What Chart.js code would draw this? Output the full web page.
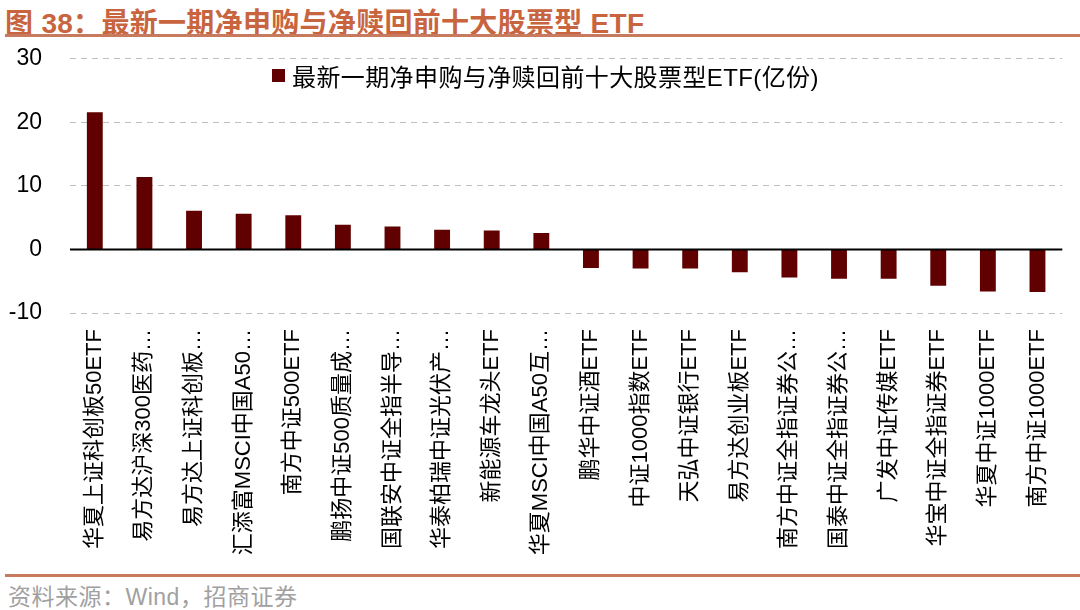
<!DOCTYPE html>
<html>
<head>
<meta charset="utf-8">
<script src="https://cdn.jsdelivr.net/npm/chart.js@4.4.1/dist/chart.umd.min.js"></script>
<style>
  html, body { margin:0; padding:0; background:#fff; }
  body { width:1080px; height:610px; position:relative; overflow:hidden;
         font-family:"Liberation Sans","Noto Sans CJK SC",sans-serif; }
  #title { position:absolute; left:5px; top:1px; font-size:28px; font-weight:bold; color:#C8653F; white-space:nowrap; letter-spacing:0.3px; }
  #tline { position:absolute; left:5px; right:0; top:34px; height:3px; background:#C87A5E; }
  #fline { position:absolute; left:5px; right:0; top:574px; height:3px; background:#C87A5E; }
  #foot { position:absolute; left:8px; top:578px; font-size:23px; color:#A0A0A0; white-space:nowrap; letter-spacing:0.5px; }
  #wrap { position:absolute; left:0; top:17px; width:1080px; height:553px; }
  #legend { position:absolute; left:272px; top:58px; font-size:24px; color:#000; white-space:nowrap; display:flex; align-items:center; letter-spacing:0.4px; }
  #legend .sw { width:13px; height:13px; background:#600000; margin-right:7px; }
</style>
</head>
<body>
<div id="title">图 38：最新一期净申购与净赎回前十大股票型 ETF</div>
<div id="tline"></div>
<div id="wrap"><canvas id="c"></canvas></div>
<div id="legend"><span class="sw"></span><span id="legtext"></span></div>
<div id="fline"></div>
<div id="foot">资料来源：Wind，招商证券</div>
<script>
const seriesName = "最新一期净申购与净赎回前十大股票型ETF(亿份)";
const categories = [
  "华夏上证科创板50ETF", "易方达沪深300医药…", "易方达上证科创板…", "汇添富MSCI中国A50…",
  "南方中证500ETF", "鹏扬中证500质量成…", "国联安中证全指半导…", "华泰柏瑞中证光伏产…",
  "新能源车龙头ETF", "华夏MSCI中国A50互…",
  "鹏华中证酒ETF", "中证1000指数ETF", "天弘中证银行ETF", "易方达创业板ETF",
  "南方中证全指证券公…", "国泰中证全指证券公…", "广发中证传媒ETF", "华宝中证全指证券ETF",
  "华夏中证1000ETF", "南方中证1000ETF"
];
const values = [21.6, 11.4, 6.1, 5.6, 5.4, 3.9, 3.6, 3.1, 3.0, 2.6,
                -2.9, -3.0, -3.0, -3.6, -4.4, -4.6, -4.6, -5.7, -6.6, -6.7];
const yTicks = [-10, 0, 10, 20, 30];

document.getElementById('legtext').textContent = seriesName;

const FONT = '"Liberation Sans","Noto Sans CJK SC",sans-serif';

const zeroLine = {
  id: 'zeroLine',
  afterDatasetsDraw(chart) {
    const y = chart.scales.y.getPixelForValue(0);
    const ctx = chart.ctx;
    ctx.save();
    ctx.strokeStyle = '#000';
    ctx.lineWidth = 2;
    ctx.beginPath();
    ctx.moveTo(chart.chartArea.left, y);
    ctx.lineTo(chart.chartArea.right, y);
    ctx.stroke();
    ctx.restore();
  }
};

new Chart(document.getElementById('c'), {
  type: 'bar',
  data: {
    labels: categories,
    datasets: [{
      label: seriesName,
      data: values,
      backgroundColor: '#600000',
      borderWidth: 0,
      categoryPercentage: 1.0,
      barPercentage: 0.32
    }]
  },
  options: {
    responsive: true,
    maintainAspectRatio: false,
    animation: false,
    layout: { padding: { top: 0, right: 5, left: 0, bottom: 0 } },
    plugins: { legend: { display: false }, tooltip: { enabled: false } },
    scales: {
      x: {
        grid: { display: false, drawTicks: false },
        border: { display: false },
        ticks: {
          autoSkip: false, maxRotation: 90, minRotation: 90, padding: 16,
          color: '#000', font: { family: FONT, size: 22 }
        },
        afterFit(scale) { scale.height = 257; }
      },
      y: {
        min: -10, max: 30,
        afterBuildTicks(scale) { scale.ticks = yTicks.map(v => ({ value: v })); },
        grid: { color: '#BFBFBF', lineWidth: 1, drawTicks: false },
        border: { display: false, dash: [6, 5] },
        ticks: { padding: 28, color: '#000', font: { family: FONT, size: 23 } },
        afterFit(scale) { scale.width = 70; }
      }
    }
  },
  plugins: [zeroLine]
});
</script>
</body>
</html>
